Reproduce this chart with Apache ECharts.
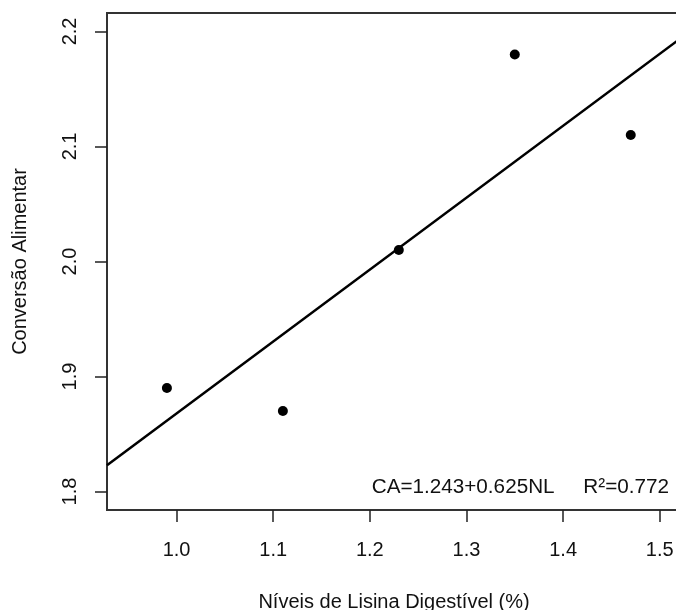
<!DOCTYPE html>
<html>
<head>
<meta charset="utf-8">
<script src="https://cdn.jsdelivr.net/npm/echarts@6/dist/echarts.min.js"></script>
<style>
html, body { margin: 0; padding: 0; background: #fff; overflow: hidden; }
#chart { width: 676px; height: 610px; }
</style>
</head>
<body>
<div id="chart"></div>
<script>
// níveis de lisina x conversão alimentar
var nivelLisina = [0.99, 1.11, 1.23, 1.35, 1.47];
var conversao = [1.89, 1.87, 2.01, 2.18, 2.11];

// reta ajustada CA = a + b*NL
var intercepto = 1.243;
var inclinacao = 0.625;
var r2 = 0.772;

var xTicks = [1.0, 1.1, 1.2, 1.3, 1.4, 1.5];
var yTicks = [1.8, 1.9, 2.0, 2.1, 2.2];
var xMin = 0.928, xMax = 1.522;
var yMin = 1.784, yMax = 2.216;

var fonte = '"Liberation Sans", Arial, sans-serif';

var pontos = nivelLisina.map(function (x, i) { return [x, conversao[i]]; });
var reta = [xMin, xMax].map(function (x) { return [x, intercepto + inclinacao * x]; });

var chart = echarts.init(document.getElementById('chart'));
chart.setOption({
  animation: false,
  backgroundColor: '#fff',
  grid: {
    left: 107, top: 13, width: 574, height: 497,
    outerBoundsMode: 'none', containLabel: false,
    show: true, borderColor: '#333', borderWidth: 2, backgroundColor: 'transparent'
  },
  xAxis: {
    type: 'value', min: xMin, max: xMax,
    splitLine: { show: false },
    axisLine: { show: false },
    axisTick: { show: true, customValues: xTicks, length: 12, lineStyle: { color: '#222', width: 1.5 } },
    axisLabel: {
      customValues: xTicks, margin: 30, fontSize: 20, color: '#111', fontFamily: fonte,
      formatter: function (v) { return v.toFixed(1); }
    },
    name: 'Níveis de Lisina Digestível (%)',
    nameLocation: 'middle', nameGap: 82,
    nameTextStyle: { fontSize: 20, color: '#111', fontFamily: fonte }
  },
  yAxis: {
    type: 'value', min: yMin, max: yMax,
    splitLine: { show: false },
    axisLine: { show: false },
    axisTick: { show: true, customValues: yTicks, length: 12, lineStyle: { color: '#222', width: 1.5 } },
    axisLabel: {
      customValues: yTicks, margin: 27, fontSize: 20, color: '#111', fontFamily: fonte, rotate: 90,
      formatter: function (v) { return v.toFixed(1); }
    },
    name: 'Conversão Alimentar',
    nameLocation: 'middle', nameGap: 77,
    nameTextStyle: { fontSize: 20, color: '#111', fontFamily: fonte }
  },
  graphic: [{
    type: 'text', right: 7, top: 477,
    style: {
      text: 'CA=' + intercepto.toFixed(3) + '+' + inclinacao.toFixed(3) + 'NL     R²=' + r2.toFixed(3),
      font: '20.7px ' + fonte, fill: '#111'
    }
  }],
  series: [
    {
      type: 'line', data: reta, symbol: 'none', silent: true,
      lineStyle: { color: '#000', width: 2.5 }
    },
    {
      type: 'scatter', data: pontos, symbol: 'circle', symbolSize: 10,
      itemStyle: { color: '#000', opacity: 1 }
    }
  ]
});
</script>
</body>
</html>
